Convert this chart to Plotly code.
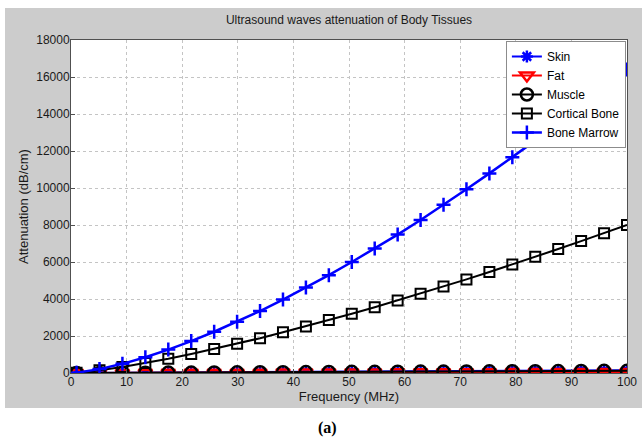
import plotly.graph_objects as go

freq = [1, 5.125, 9.25, 13.375, 17.5, 21.625, 25.75, 29.875, 34, 38.125, 42.25,
        46.375, 50.5, 54.625, 58.75, 62.875, 67, 71.125, 75.25, 79.375, 83.5,
        87.625, 91.75, 95.875, 100]

skin = [1, 8, 14, 20, 26, 33, 39, 45, 51, 57, 63, 70, 76, 82, 88, 94, 100,
        107, 113, 119, 125, 131, 138, 144, 150]
fat = [1, 3, 6, 8, 11, 13, 15, 18, 20, 23, 25, 28, 30, 33, 35, 38, 40, 43,
       45, 48, 50, 53, 55, 58, 60]
muscle = [1, 6, 11, 16, 21, 26, 31, 36, 41, 46, 51, 56, 61, 66, 71, 75, 80,
          85, 90, 95, 100, 105, 110, 115, 120]
cortical = [17, 150, 330, 540, 770, 1030, 1300, 1580, 1880, 2200, 2520, 2860,
            3200, 3550, 3920, 4290, 4670, 5060, 5460, 5860, 6280, 6700, 7130,
            7560, 8000]
marrow = [19, 210, 495, 850, 1265, 1725, 2230, 2775, 3350, 3970, 4620, 5290,
          6000, 6730, 7480, 8270, 9090, 9930, 10790, 11660, 12560, 13480,
          14430, 15410, 16400]

x_ticks = [0, 10, 20, 30, 40, 50, 60, 70, 80, 90, 100]
y_ticks = [0, 2000, 4000, 6000, 8000, 10000, 12000, 14000, 16000, 18000]

FONT = "Liberation Sans, Arial, sans-serif"
GRAY = "#cccccc"

fig = go.Figure()
fig.add_trace(go.Scatter(
    x=freq, y=skin, name="Skin", mode="lines+markers",
    line=dict(color="#0000ff", width=2),
    marker=dict(symbol="asterisk-open", size=10, color="#0000ff",
                line=dict(color="#0000ff", width=2.5))))
fig.add_trace(go.Scatter(
    x=freq, y=fat, name="Fat", mode="lines+markers",
    line=dict(color="#ff0000", width=2),
    marker=dict(symbol="triangle-down-open", size=12, color="#ff0000",
                line=dict(color="#ff0000", width=2.5))))
fig.add_trace(go.Scatter(
    x=freq, y=muscle, name="Muscle", mode="lines+markers",
    line=dict(color="#000000", width=2),
    marker=dict(symbol="circle-open", size=12, color="#000000",
                line=dict(color="#000000", width=2.5))))
fig.add_trace(go.Scatter(
    x=freq, y=cortical, name="Cortical Bone", mode="lines+markers",
    line=dict(color="#000000", width=2),
    marker=dict(symbol="square-open", size=10, color="#000000",
                line=dict(color="#000000", width=2))))
fig.add_trace(go.Scatter(
    x=freq, y=marrow, name="Bone Marrow", mode="lines+markers",
    line=dict(color="#0000ff", width=2.5),
    marker=dict(symbol="cross-thin-open", size=10, color="#0000ff",
                line=dict(color="#0000ff", width=2.5))))

axis_common = dict(
    showgrid=True, gridcolor="#c4c4c4", griddash="dot", gridwidth=1,
    showline=True, linecolor="#505050", linewidth=1, mirror=True,
    ticks="inside", ticklen=4, tickcolor="#505050",
    tickfont=dict(family=FONT, size=12, color="#1a1a1a"),
    zeroline=False, automargin=False,
)

fig.update_xaxes(range=[0, 100], tickvals=x_ticks,
                 ticktext=[str(v) for v in x_ticks],
                 ticklabelstandoff=-2,
                 title=dict(text="Frequency (MHz)", standoff=0,
                            font=dict(family=FONT, size=13, color="#1a1a1a")),
                 **axis_common)
fig.update_yaxes(range=[0, 18000], tickvals=y_ticks,
                 ticktext=[str(v) for v in y_ticks],
                 ticklabelstandoff=-2,
                 title=dict(text="Attenuation (dB/cm)", standoff=4,
                            font=dict(family=FONT, size=13, color="#1a1a1a")),
                 **axis_common)

fig.update_layout(
    width=642, height=443,
    margin=dict(l=71, r=15, t=40, b=70),
    paper_bgcolor=GRAY, plot_bgcolor="white",
    title=dict(text="Ultrasound waves attenuation of Body Tissues",
               x=349 / 642, xanchor="center", y=1 - 20 / 443, yanchor="middle",
               font=dict(family=FONT, size=12, color="#1a1a1a")),
    legend=dict(x=0.998, xanchor="right", y=0.997, yanchor="top",
                bgcolor="white", bordercolor="#8c8c8c", borderwidth=1,
                font=dict(family=FONT, size=12, color="#000000"),
                itemwidth=30, tracegroupgap=0),
    showlegend=True,
    shapes=[
        # white page strips outside the gray figure panel
        dict(type="rect", xref="paper", yref="paper", layer="below",
             x0=(0 - 71) / 556, x1=(642 - 71) / 556,
             y0=(373 - 443) / 333, y1=(373 - 408) / 333,
             fillcolor="white", line=dict(width=0)),
        dict(type="rect", xref="paper", yref="paper", layer="below",
             x0=(0 - 71) / 556, x1=(642 - 71) / 556,
             y0=(373 - 8) / 333, y1=(373 - 0) / 333,
             fillcolor="white", line=dict(width=0)),
        dict(type="rect", xref="paper", yref="paper", layer="below",
             x0=(0 - 71) / 556, x1=(5 - 71) / 556,
             y0=(373 - 443) / 333, y1=(373 - 0) / 333,
             fillcolor="white", line=dict(width=0)),
    ],
    annotations=[dict(text="<b>(a)</b>", xref="paper", yref="paper",
                      x=(327 - 71) / 556, y=(373 - 428) / 333,
                      showarrow=False, xanchor="center", yanchor="middle",
                      font=dict(family="Liberation Serif, Times New Roman, serif",
                                size=16, color="#000000"))],
)

fig.write_html("out.html", config={"displayModeBar": False},
               post_script="document.body.style.margin='0';document.body.style.overflow='hidden';")
